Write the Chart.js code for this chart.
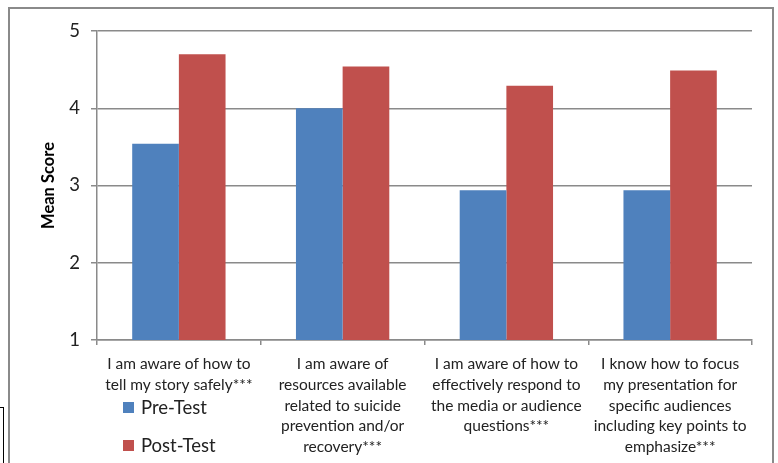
<!DOCTYPE html>
<html><head><meta charset="utf-8">
<script src="https://cdn.jsdelivr.net/npm/chart.js@4/dist/chart.umd.min.js"></script>
<style>
html,body{margin:0;padding:0;background:#fff;width:778px;height:463px;overflow:hidden;font-family:Lato,"Open Sans",sans-serif;}
#frame{position:absolute;left:8px;top:7px;width:766px;height:470px;border:2px solid #8a8a8a;box-sizing:border-box;}
#stub{position:absolute;left:-2px;top:407px;width:6px;height:70px;border:1.5px solid #000;box-sizing:border-box;}
#wrap{position:absolute;left:0;top:0;width:778px;height:463px;}
.leg{position:absolute;left:123px;font-size:18.5px;color:#222;display:flex;align-items:center;}
.leg span.sw{display:inline-block;width:11px;height:11px;margin-right:7px;}
</style></head>
<body>
<div id="frame"></div>
<div id="stub"></div>
<div id="wrap"><canvas id="c" width="778" height="463"></canvas></div>
<div class="leg" style="top:396px"><span class="sw" style="background:#4F81BD"></span>Pre-Test</div>
<div class="leg" style="top:434px"><span class="sw" style="background:#C0504D"></span>Post-Test</div>
<script>
const categories = [
  ["I am aware of how to","tell my story safely***"],
  ["I am aware of","resources available","related to suicide","prevention and/or","recovery***"],
  ["I am aware of how to","effectively respond to","the media or audience","questions***"],
  ["I know how to focus","my presentation for","specific audiences","including key points to","emphasize***"]
];
const preTest = [3.54, 4.00, 2.94, 2.94];
const postTest = [4.70, 4.54, 4.29, 4.49];
const yTicks = [1, 2, 3, 4, 5];

new Chart(document.getElementById('c'), {
  type: 'bar',
  data: {
    labels: categories,
    datasets: [
      {label:'Pre-Test', data: preTest, backgroundColor:'#4F81BD', borderWidth:0},
      {label:'Post-Test', data: postTest, backgroundColor:'#C0504D', borderWidth:0}
    ]
  },
  options: {
    responsive:false, animation:false,
    layout:{padding:{left:39,right:26,top:31,bottom:0}},
    plugins:{legend:{display:false}, tooltip:{enabled:false}},
    datasets:{bar:{categoryPercentage:0.57, barPercentage:1.0}},
    scales:{
      x:{
        grid:{display:true, drawOnChartArea:false, color:'#8a8a8a', lineWidth:1.5, tickLength:5, offset:true},
        border:{color:'#8a8a8a', width:1.5},
        ticks:{color:'#222', font:{family:'Lato', size:15.5, lineHeight:1.33}, padding:9, maxRotation:0, minRotation:0, autoSkip:false},
        afterFit:(s)=>{ s.height = 463-340; }
      },
      y:{
        min:1, max:5,
        afterBuildTicks:(s)=>{ s.ticks = yTicks.map(v=>({value:v})); },
        grid:{color:'#8a8a8a', lineWidth:1.5, tickLength:6},
        border:{color:'#8a8a8a', width:1.5},
        ticks:{color:'#222', font:{family:'Lato', size:18.5}, padding:11},
        title:{display:true, text:'Mean Score', color:'#000', font:{family:'Lato', size:16.5, weight:'bold'}, padding:{top:0,bottom:0}},
        afterFit:(s)=>{ s.width = 58; }
      }
    }
  }
});
</script>
</body></html>
